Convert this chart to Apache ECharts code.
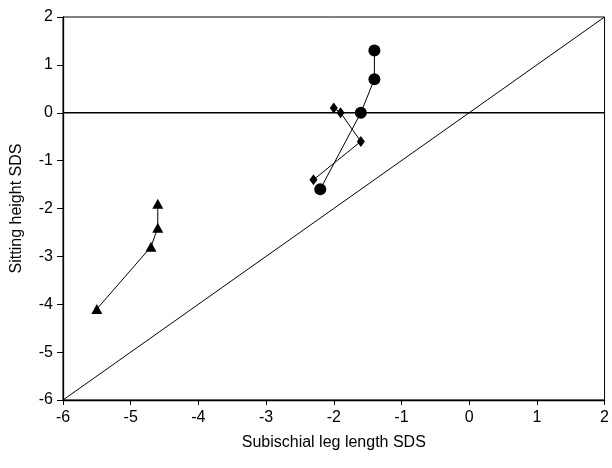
<!DOCTYPE html>
<html>
<head>
<meta charset="utf-8">
<script src="https://cdn.jsdelivr.net/npm/echarts@6/dist/echarts.min.js"></script>
<style>html,body{margin:0;padding:0;background:#fff}#c{width:612px;height:468px}</style>
</head>
<body>
<div id="c"></div>
<script>
const xTicks = [-6, -5, -4, -3, -2, -1, 0, 1, 2];
const yTicks = [-6, -5, -4, -3, -2, -1, 0, 1, 2];
const circleX = [-1.4, -1.4, -1.6, -2.2];
const circleY = [1.3, 0.7, 0.0, -1.6];
const diamondX = [-2.0, -1.9, -1.6, -2.3];
const diamondY = [0.1, 0.0, -0.6, -1.4];
const triangleX = [-4.6, -4.6, -4.7, -5.5];
const triangleY = [-1.9, -2.4, -2.8, -4.1];
const identityX = [-6, 2];
const zeroLineX = [-6, 2];

const zip = (a, b) => a.map((v, i) => [v, b[i]]);
const font = 'Liberation Sans, Arial, sans-serif';
const lineStyle = { color: '#000', width: 1 };

const chart = echarts.init(document.getElementById('c'));
chart.setOption({
  animation: false,
  backgroundColor: '#fff',
  grid: { left: 63, right: 6, top: 17, bottom: 68, show: true, borderColor: '#000', borderWidth: 1, backgroundColor: 'transparent' },
  xAxis: {
    type: 'value', min: xTicks[0], max: xTicks[xTicks.length - 1], interval: 1,
    name: 'Subischial leg length SDS', nameLocation: 'middle', nameGap: 35,
    nameTextStyle: { fontFamily: font, fontSize: 16, color: '#000' },
    axisLine: { show: true, onZero: false, lineStyle: { color: '#000', width: 1.3 } },
    axisTick: { show: true, inside: false, length: 5, lineStyle: { color: '#000' } },
    axisLabel: { fontFamily: font, fontSize: 16, color: '#000', margin: 10 },
    splitLine: { show: false }
  },
  yAxis: {
    type: 'value', min: yTicks[0], max: yTicks[yTicks.length - 1], interval: 1,
    name: 'Sitting height SDS', nameLocation: 'middle', nameGap: 38,
    nameTextStyle: { fontFamily: font, fontSize: 16, color: '#000' },
    axisLine: { show: true, onZero: false, lineStyle: { color: '#000', width: 1.3 } },
    axisTick: { show: true, inside: false, length: 6, lineStyle: { color: '#000' } },
    axisLabel: { fontFamily: font, fontSize: 16, color: '#000', margin: 10 },
    splitLine: { show: false }
  },
  series: [
    { type: 'line', data: zip(identityX, identityX), symbol: 'none', lineStyle, silent: true },
    { type: 'line', data: zip(zeroLineX, [0, 0]), symbol: 'none', lineStyle: { color: '#000', width: 1.5 }, silent: true },
    { type: 'line', data: zip(circleX, circleY), symbol: 'circle', symbolSize: 12, lineStyle, itemStyle: { color: '#000' } },
    { type: 'line', data: zip(diamondX, diamondY), symbol: 'diamond', symbolSize: [8, 11], lineStyle, itemStyle: { color: '#000' } },
    { type: 'line', data: zip(triangleX, triangleY), symbol: 'triangle', symbolSize: [11, 10], lineStyle, itemStyle: { color: '#000' } }
  ]
});
</script>
</body>
</html>
